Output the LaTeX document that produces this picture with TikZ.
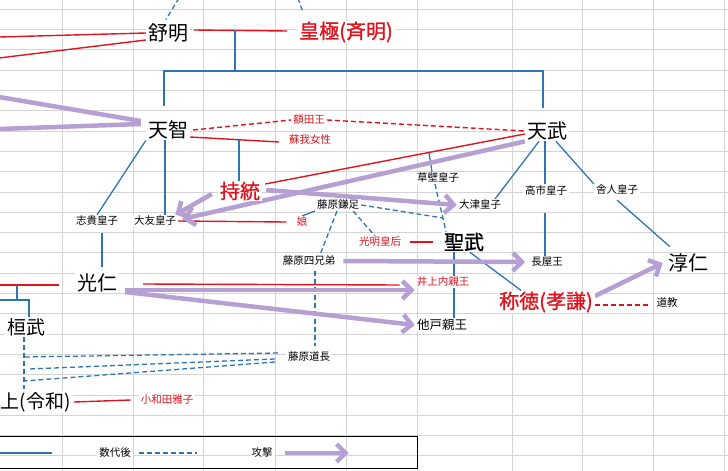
\documentclass[tikz,border=0pt]{standalone}
\usepackage{fontspec}
\setmainfont{Noto Sans CJK JP}
\newfontfamily\thickjp[FakeBold=1.2]{Noto Sans CJK JP}
\usetikzlibrary{arrows.meta}
\definecolor{keiblue}{HTML}{2E75B6}
\definecolor{keired}{HTML}{E0141E}
\definecolor{keipurple}{HTML}{B69FD2}
\definecolor{keigrid}{HTML}{D4D4D4}
\pgfdeclarelayer{gridlayer}
\pgfdeclarelayer{linelayer}
\pgfsetlayers{gridlayer,linelayer,main}
\tikzset{
  big/.style={fill=white,inner xsep=2pt,inner ysep=1pt,font=\fontsize{20}{24}\selectfont},
  heavy/.style={big,font=\thickjp\fontsize{20}{24}\selectfont},
  small/.style={fill=white,inner xsep=2pt,inner ysep=1pt,font=\fontsize{10.5}{12}\selectfont},
  wife/.style={text=keired},
  kin/.style={keiblue,line width=1.3pt},
  later/.style={keiblue,line width=1.3pt,dash pattern=on 5pt off 3pt},
  wed/.style={keired,line width=1.4pt},
  affair/.style={keired,line width=1.4pt,dash pattern=on 5pt off 3pt},
  attackline/.style={keipurple,line width=4.5pt},
  attack/.style={attackline,-{Straight Barb[length=9pt,width=18pt]}},
}
\begin{document}
\begin{tikzpicture}[x=1pt,y=-1pt]
    \useasboundingbox (0,0) rectangle (728,471);
    \begin{pgfonlayer}{gridlayer}
        \foreach \gx in {62,133,203,275,346,417,512,582,653,724}
            \draw[keigrid] (\gx,0) -- (\gx,471);
        \foreach \gy in {0,...,22}
            \draw[keigrid] (0,{9+20.3*\gy}) -- (728,{9+20.3*\gy});
    \end{pgfonlayer}

    \node[big] (jomei) at (168,33) {舒明};
    \node[heavy,wife] (kogyoku) at (346,32) {皇極(斉明)};
    \node[big] (tenji) at (168,130) {天智};
    \node[big] (tenmu) at (547,131) {天武};
    \node[small,wife] (nukata) at (309,120) {額田王};
    \node[small,wife] (soga) at (310,140) {蘇我女性};
    \node[heavy,wife] (jito) at (240,191) {持統};
    \node[small] (shiki) at (97,221) {志貴皇子};
    \node[small] (otomo) at (155,221) {大友皇子};
    \node[small,wife] (musume) at (302,222) {娘};
    \node[small] (kamatari) at (338,205) {藤原鎌足};
    \node[small] (kusakabe) at (438,178) {草壁皇子};
    \node[small] (otsu) at (480,205) {大津皇子};
    \node[small] (takechi) at (546,190) {高市皇子};
    \node[small] (toneri) at (617,190) {舎人皇子};
    \node[small,wife] (komyo) at (380,242) {光明皇后};
    \node[heavy] (shomu) at (464,242) {聖武};
    \node[small] (shitei) at (309,261) {藤原四兄弟};
    \node[small] (nagaya) at (547,262) {長屋王};
    \node[big] (junnin) at (688,263) {淳仁};
    \node[big] (konin) at (97,283) {光仁};
    \node[small,wife] (inoue) at (443,282) {井上内親王};
    \node[heavy,wife] (shotoku) at (546,302) {称徳(孝謙)};
    \node[small] (dokyo) at (667,303) {道教};
    \node[small,font=\fontsize{12.5}{14}\selectfont] (osabe) at (442,325) {他戸親王};
    \node[big,font=\fontsize{19}{23}\selectfont] (kanmu) at (26,327) {桓武};
    \node[small] (michinaga) at (309,357) {藤原道長};
    \node[big,font=\fontsize{19}{23}\selectfont,anchor=east] (kinjo) at (73,402) {上(令和)};
    \node[small,wife] (masako) at (167,400) {小和田雅子};
    \node[small] (keysub) at (115,453) {数代後};
    \node[small] (keyatk) at (262,453) {攻撃};

    \coordinate (jomeiup) at (179,-2);
    \coordinate (kogyokuup) at (298,-2);
    \coordinate (jk) at (235,30);
    \coordinate (sibling) at (235,71);
    \coordinate (tenjiup) at (164,106);
    \coordinate (tenmuup) at (543,108);
    \coordinate (ts) at (239,139.5);
    \coordinate (tj) at (429,152.5);
    \coordinate (ks) at (443,218);
    \coordinate (jomeifar) at (-1,37);
    \coordinate (jomeifar2) at (-1,58);
    \coordinate (tenjifar) at (-1,97);
    \coordinate (tenjifar2) at (-1,129);
    \coordinate (koninleft) at (-1,285);
    \coordinate (kk) at (17,285);
    \coordinate (kbr) at (17,300);
    \coordinate (kanmuleft) at (-1,300);
    \coordinate (heir) at (24,389);
    \coordinate (h1) at (24,357);
    \coordinate (h2) at (29,369);
    \coordinate (h3) at (24,381);

    \begin{pgfonlayer}{linelayer}
        \draw[later] (jomeiup) -- ([xshift=-2pt,yshift=3pt]jomei.north);
        \draw[later] (kogyokuup) -- ([xshift=6pt,yshift=8pt]kogyoku.north west);
        \draw[wed] ([xshift=4pt,yshift=3pt]jomei.east) -- ([xshift=-10pt,yshift=1pt]kogyoku.west);
        \draw[wed] (jomei.west) -- (jomeifar);
        \draw[wed] ([yshift=-7pt]jomei.west) -- (jomeifar2);
        \draw[kin] (jk) -- (sibling);
        \draw[kin] (tenjiup) |- (sibling) -| (tenmuup);
        \draw[attackline] ([xshift=-5pt,yshift=9pt]tenji.west) -- (tenjifar);
        \draw[attackline] ([xshift=-5pt,yshift=6pt]tenji.west) -- (tenjifar2);
        \draw[kin] (tenji.south west) -- (shiki.north);
        \draw[kin] ([xshift=-3pt]tenji.south) -- ([xshift=10pt]otomo.north);
        \draw[affair] ([xshift=3pt]tenji.east) -- (nukata.west);
        \draw[affair] (nukata.east) -- (tenmu.west);
        \draw[wed] ([yshift=-7pt]tenji.east) -- ([xshift=-8pt,yshift=-2pt]soga.west);
        \draw[kin] (ts) -- ([xshift=-1pt]jito.north);
        \draw[wed] ([yshift=-3pt]tenmu.west) -- ([xshift=3pt,yshift=7pt]jito.east);
        \draw[kin] (tj) -- ([xshift=-6pt]kusakabe.north);
        \draw[later] ([xshift=-3pt]kusakabe.south) -- ([xshift=-18pt]shomu.north);
        \draw[later] (kamatari.east) -- (ks);
        \draw[later] ([xshift=-1pt]kamatari.south) -- ([xshift=11pt]shitei.north);
        \draw[later] ([xshift=-8pt]kamatari.south east) -- ([xshift=-5pt]komyo.north);
        \draw[kin] (musume.north) -- (kamatari.south west);
        \draw[wed] (otomo.east) -- ([xshift=-8pt]musume.west);
        \draw[wed] ([xshift=7pt]komyo.east) -- ([xshift=-9pt]shomu.west);
        \draw[kin] ([xshift=-8pt]tenmu.south) -- ([xshift=15pt]otsu.north);
        \draw[kin] ([xshift=-2pt]tenmu.south) -- ([xshift=-1pt]takechi.north);
        \draw[kin] ([xshift=9pt]tenmu.south) -- (toneri.north west);
        \draw[kin] ([xshift=-1pt,yshift=-17pt]takechi.south) -- ([xshift=-2pt]nagaya.north);
        \draw[kin] ([yshift=-4pt]toneri.south) -- ([xshift=4pt,yshift=6pt]junnin.north west);
        \draw[kin] ([xshift=6pt]shomu.south) -- ([xshift=-25pt]shotoku.north);
        \draw[kin] ([xshift=-10pt]shomu.south) -- ([xshift=12pt]osabe.north);
        \draw[kin] ([xshift=5pt,yshift=-6pt]shiki.south) -- ([xshift=5pt,yshift=6pt]konin.north);
        \draw[wed] ([xshift=-16pt,yshift=-2pt]konin.west) -- (koninleft);
        \draw[kin] (kk) -- (kbr);
        \draw[kin] (kanmuleft) -| ([xshift=3pt]kanmu.north);
        \draw[wed] ([xshift=24pt,yshift=-1pt]konin.east) -- ([xshift=-15pt,yshift=-3pt]inoue.west);
        \draw[affair] ([yshift=-3pt]shotoku.east) -- ([xshift=-6pt,yshift=-2pt]dokyo.west);
        \draw[later] ([xshift=6pt,yshift=-4pt]shitei.south) -- ([xshift=6pt,yshift=5pt]michinaga.north);
        \draw[later] ([xshift=-2pt]kanmu.south) -- (heir);
        \draw[later] ([xshift=-8pt,yshift=4pt]michinaga.west) -- (h1);
        \draw[later] ([xshift=-11pt,yshift=-2pt]michinaga.west) -- (h2);
        \draw[later] ([xshift=-11pt,yshift=-5pt]michinaga.west) -- (h3);
        \draw[wed] ([xshift=1pt]kinjo.east) -- ([xshift=-8pt]masako.west);
        \draw[attack] (tenmu.south west) -- ([xshift=4pt,yshift=2pt]otomo.east);
        \draw[attack] ([xshift=-6pt,yshift=-3pt]jito.west) -- ([xshift=-3pt]otomo.north east);
        \draw[attack] ([xshift=4pt,yshift=1pt]jito.east) -- (otsu.west);
        \draw[attack] ([xshift=6pt]shitei.east) -- ([xshift=-4pt]nagaya.west);
        \draw[attack] ([xshift=6pt,yshift=-7pt]konin.east) -- ([yshift=-8pt]inoue.west);
        \draw[attack] ([xshift=6pt,yshift=-9pt]konin.east) -- (osabe.west);
        \draw[attack] ([yshift=6pt]shotoku.east) -- ([xshift=-3pt]junnin.west);
        \draw[line width=1pt] (-2,436) rectangle (417,468);
        \draw[kin] (-1,453) -- ([xshift=-45pt]keysub.west);
        \draw[later] ([xshift=6pt]keysub.east) -- ++(58,0);
        \draw[attack] ([xshift=10pt]keyatk.east) -- ++(64,0);
    \end{pgfonlayer}
\end{tikzpicture}
\end{document}
